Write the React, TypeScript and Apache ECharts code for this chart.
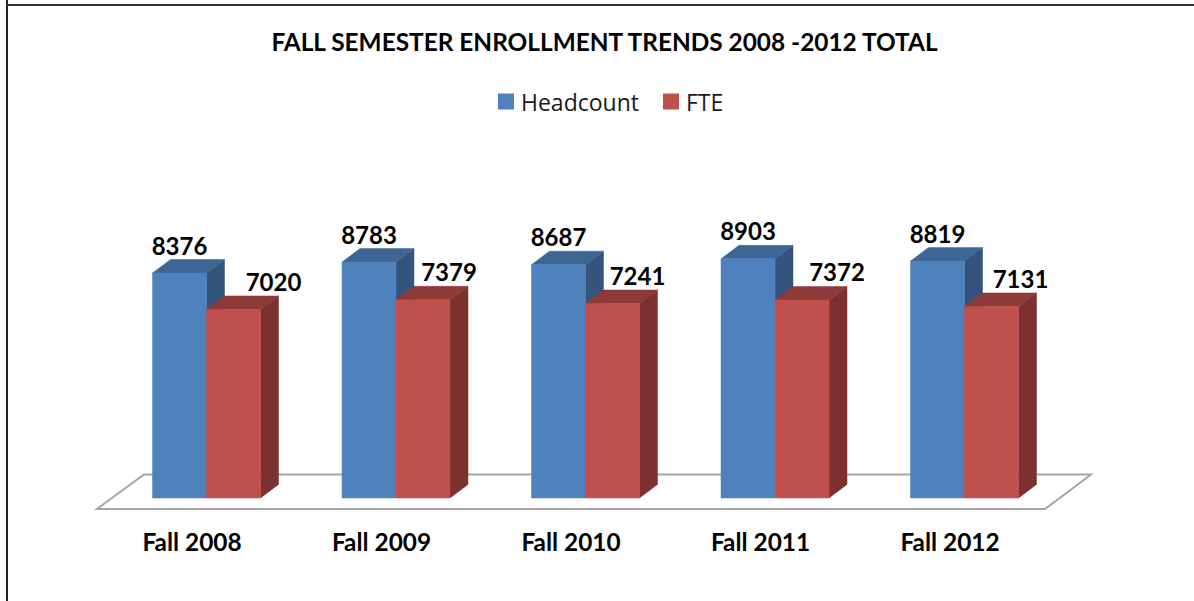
import React, { useEffect, useRef } from "react";
import * as echarts from "echarts";

const categories = ["Fall 2008", "Fall 2009", "Fall 2010", "Fall 2011", "Fall 2012"];
const headcount = [8376, 8783, 8687, 8903, 8819];
const fte = [7020, 7379, 7241, 7372, 7131];

const titleText = "FALL SEMESTER ENROLLMENT TRENDS 2008 -2012 TOTAL";
const FONT = "Lato, Carlito, sans-serif";
const BAR_RATIO = 54 / 189.5;
const DX = 18;
const DY = -13.5;
const FTE_LABEL_SHIFT = [40, 26, 25, 35, 29];

const shape3d = (side: number, colors: any, labelShift: number[]) => (params: any, api: any) => {
  const v = api.value(1);
  const [cx, top] = api.coord([api.value(0), v]);
  const [, base] = api.coord([api.value(0), 0]);
  const w = api.size([1, 0])[0] * BAR_RATIO;
  const x0 = side < 0 ? cx - w : cx;
  const x1 = x0 + w;
  const i = params.dataIndex;
  const poly = (points: number[][], fill: string) => ({
    type: "polygon",
    shape: { points },
    style: { fill, stroke: fill, lineWidth: 0.5 },
  });
  return {
    type: "group",
    children: [
      poly([[x1, top], [x1 + DX, top + DY], [x1 + DX, base + DY], [x1, base]], colors.side),
      poly([[x0, top], [x0 + DX, top + DY], [x1 + DX, top + DY], [x1, top]], colors.top),
      poly([[x0, top], [x1, top], [x1, base], [x0, base]], colors.front),
      {
        type: "text",
        style: {
          text: String(v),
          x: (x0 + x1) / 2 + labelShift[i],
          y: top - 28,
          align: "center",
          verticalAlign: "middle",
          font: `bold 24px ${FONT}`,
          fill: "#000",
        },
      },
    ],
  };
};

const BLUE = { front: "#4f81bd", side: "#34547d", top: "#3e6694" };
const RED = { front: "#c0504d", side: "#7c302f", top: "#8e3a38" };

export default function App() {
  const ref = useRef<HTMLDivElement>(null);
  useEffect(() => {
    document.body.style.margin = "0";
    const chart = echarts.init(ref.current!, undefined, { renderer: "svg" });
    chart.setOption({
      animation: false,
      backgroundColor: "#fff",
      title: {
        text: titleText,
        left: 599.5,
        top: 24,
        textAlign: "center",
        textStyle: { fontFamily: FONT, fontWeight: "bold", fontSize: 24.4, color: "#000" },
      },
      legend: {
        data: ["Headcount", "FTE"],
        left: 493,
        top: 85,
        icon: "rect",
        itemWidth: 16,
        itemHeight: 16,
        itemGap: 24,
        textStyle: {
          fontFamily: "'Open Sans', sans-serif",
          fontSize: 23,
          color: "#1a1a1a",
          padding: [0, 0, 0, 2],
        },
      },
      grid: { left: 111.75, right: 1194 - 1059.25, top: 229.4, height: 268.6 },
      xAxis: {
        type: "category",
        data: categories,
        axisLine: { show: false },
        axisTick: { show: false },
        axisLabel: {
          margin: 31,
          padding: [0, 29, 0, 0],
          fontFamily: FONT,
          fontWeight: "bold",
          fontSize: 24.4,
          color: "#000",
        },
      },
      yAxis: { type: "value", min: 0, max: 10000, show: false, splitLine: { show: false } },
      graphic: [
        { type: "line", z: 100, shape: { x1: 7, y1: 0, x2: 7, y2: 601 }, style: { stroke: "#222", lineWidth: 2 } },
        { type: "line", z: 100, shape: { x1: 6, y1: 5, x2: 1194, y2: 5 }, style: { stroke: "#333", lineWidth: 2 } },
        {
          type: "polygon",
          z: -1,
          shape: { points: [[97, 509], [1045, 509], [1091, 474.5], [144, 474.5]] },
          style: { fill: "#fff", stroke: "#a6a6a6", lineWidth: 2 },
        },
      ],
      series: [
        {
          name: "Headcount",
          type: "custom",
          z: 3,
          itemStyle: { color: BLUE.front },
          encode: { x: 0, y: 1 },
          data: categories.map((_, i) => [i, headcount[i]]),
          renderItem: shape3d(-1, BLUE, [0, 0, 0, 0, 0]),
        },
        {
          name: "FTE",
          type: "custom",
          z: 4,
          itemStyle: { color: RED.front },
          encode: { x: 0, y: 1 },
          data: categories.map((_, i) => [i, fte[i]]),
          renderItem: shape3d(1, RED, FTE_LABEL_SHIFT),
        },
      ],
    });
    return () => chart.dispose();
  }, []);
  return <div ref={ref} style={{ width: 1194, height: 601 }} />;
}
